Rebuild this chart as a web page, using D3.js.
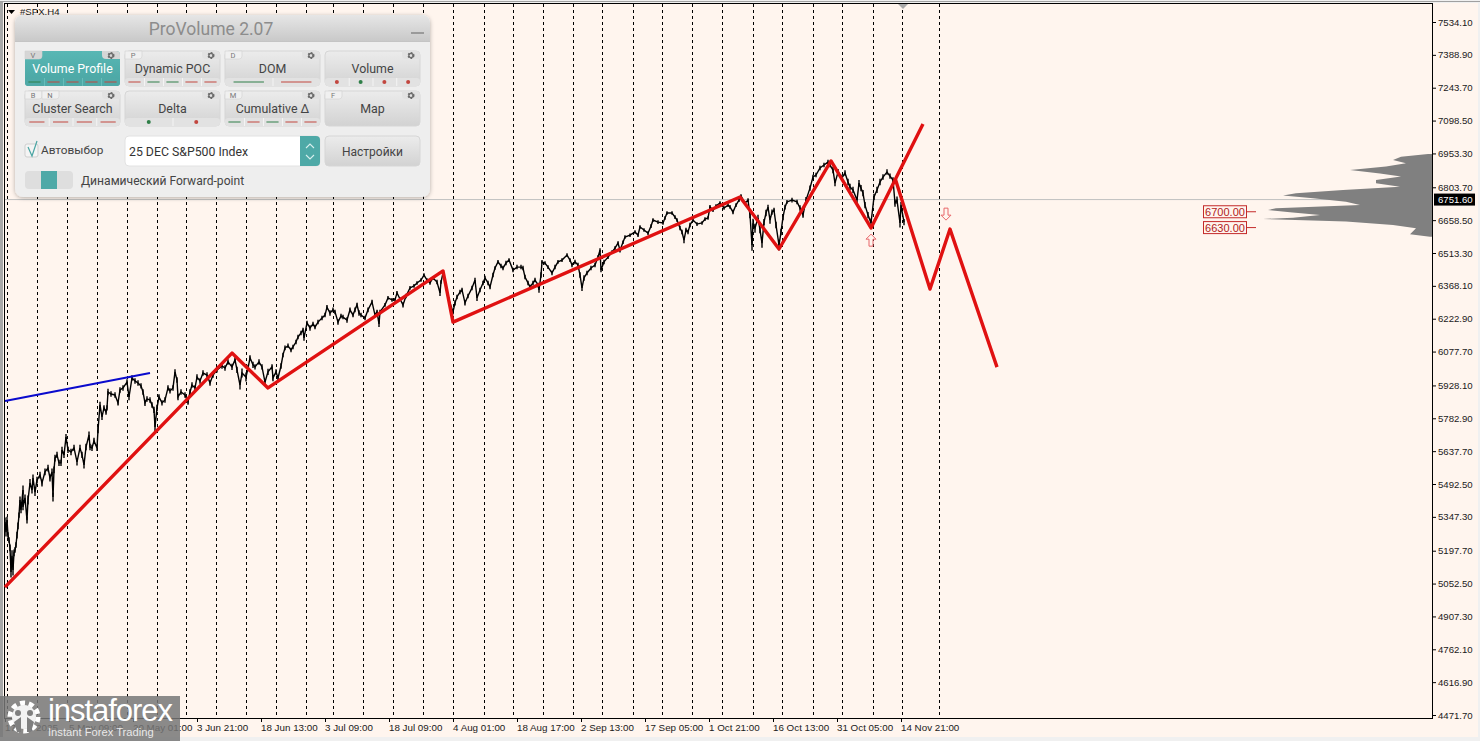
<!DOCTYPE html>
<html><head><meta charset="utf-8">
<script src="https://cdnjs.cloudflare.com/ajax/libs/d3/7.8.5/d3.min.js"></script>
<style>html,body{margin:0;padding:0;background:#f0f0f0;overflow:hidden}svg{display:block}text{font-family:"Liberation Sans",sans-serif}.p text{font-family:Roboto,sans-serif}</style>
</head><body><svg id="c" width="1480" height="741"></svg>
<script>
const priceLabels=[7534.10,7388.90,7243.70,7098.50,6953.30,6803.70,6658.50,6513.30,6368.10,6222.90,6077.70,5928.10,5782.90,5637.70,5492.50,5347.30,5197.70,5052.50,4907.30,4762.10,4616.90,4471.70];
const timeLabels=["17 Apr 2025","5 May 09:00","20 May 01:00","3 Jun 21:00","18 Jun 13:00","3 Jul 09:00","18 Jul 09:00","4 Aug 01:00","18 Aug 17:00","2 Sep 13:00","17 Sep 05:00","1 Oct 21:00","16 Oct 13:00","31 Oct 05:00","14 Nov 21:00"];
const timeBars=[0,64,128,192,256,320,384,448,512,576,640,704,768,832,896];
const separatorBars=[2,32,62,92,122,152,181,211,241,271,301,328,358,388,418,448,479,508,538,568,597,628,657,687,717,748,777,808,837,868,897,934];
// [bar, price, half of the bar's high-low range]
const priceSeries=[[0,5324,20],[1,5280,20],[2,5333,15],[3,5267,12],[4,5245,12],[5,5210,15],[6,5104,25],[7,5175,25],[8,5113,25],[9,5188,15],[10,5201,12],[11,5223,12],[12,5267,15],[13,5307,15],[14,5355,12],[15,5422,15],[16,5378,15],[18,5466,20],[18,5391,15],[20,5431,15],[22,5333,15],[23,5422,20],[25,5497,18],[27,5466,15],[28,5519,15],[30,5457,18],[32,5510,15],[35,5532,15],[37,5497,15],[40,5546,15],[43,5563,15],[45,5519,15],[47,5546,15],[48,5435,20],[49,5555,15],[50,5607,15],[52,5621,14],[54,5586,14],[56,5586,14],[57,5643,14],[59,5621,14],[61,5700,14],[63,5643,14],[66,5634,14],[69,5652,14],[72,5590,16],[75,5652,14],[77,5621,14],[79,5577,16],[81,5656,14],[84,5709,16],[85,5656,14],[87,5652,14],[89,5683,14],[92,5652,14],[93,5731,14],[95,5842,14],[97,5789,14],[99,5829,12],[101,5811,12],[102,5829,12],[103,5899,14],[106,5890,12],[110,5886,12],[113,5851,12],[115,5908,12],[118,5917,12],[122,5943,12],[124,5877,14],[127,5961,12],[130,5948,12],[133,5939,12],[136,5926,12],[138,5899,12],[140,5851,14],[142,5868,12],[145,5864,12],[147,5842,12],[149,5820,14],[150,5745,20],[152,5829,14],[154,5877,12],[157,5851,12],[160,5864,12],[163,5917,12],[165,5904,12],[168,5917,12],[170,5988,12],[172,5952,12],[173,5877,14],[176,5899,12],[180,5886,12],[183,5855,12],[185,5899,12],[187,5930,12],[190,5917,12],[192,5965,12],[195,5948,12],[198,5983,12],[202,5974,12],[205,5939,12],[208,5974,12],[212,5997,12],[217,6014,12],[220,6005,12],[223,6032,12],[227,6010,14],[230,6041,12],[232,5997,14],[235,5930,20],[237,5983,20],[241,5965,20],[243,6005,14],[245,6050,12],[248,6019,14],[250,6010,12],[254,6032,12],[257,6010,12],[260,5943,14],[263,5988,14],[267,6010,12],[268,5961,14],[271,5988,12],[273,5961,12],[276,6014,12],[278,6063,10],[280,6094,10],[283,6103,10],[286,6085,10],[288,6098,10],[291,6120,10],[293,6142,10],[296,6160,10],[298,6173,10],[299,6138,12],[302,6204,10],[305,6182,12],[308,6200,10],[310,6186,10],[313,6208,10],[317,6226,10],[320,6239,10],[322,6274,10],[325,6248,12],[328,6262,10],[330,6253,10],[333,6208,12],[336,6235,10],[338,6230,10],[342,6217,12],[345,6262,10],[348,6239,10],[350,6262,10],[352,6284,10],[354,6248,12],[356,6239,10],[360,6226,10],[363,6262,10],[367,6297,10],[370,6239,10],[372,6253,10],[374,6200,14],[375,6253,10],[380,6284,8],[383,6315,8],[387,6306,8],[390,6306,8],[392,6337,8],[395,6310,8],[398,6284,12],[401,6323,10],[405,6359,8],[409,6368,8],[412,6381,8],[416,6394,8],[419,6416,8],[422,6394,8],[425,6381,8],[428,6403,8],[432,6385,10],[435,6337,14],[436,6385,8],[438,6425,8],[444,6306,10],[448,6253,10],[450,6293,12],[452,6319,10],[455,6341,10],[457,6350,10],[460,6293,12],[463,6323,10],[467,6359,10],[470,6394,10],[472,6315,14],[475,6350,10],[478,6381,10],[480,6403,10],[483,6381,10],[485,6363,10],[488,6416,10],[490,6447,8],[493,6474,8],[496,6456,10],[498,6447,10],[501,6469,10],[504,6482,8],[508,6438,10],[512,6451,10],[516,6451,10],[518,6447,10],[520,6407,10],[523,6381,10],[525,6363,10],[528,6381,10],[530,6394,10],[533,6372,10],[534,6350,12],[536,6416,12],[537,6474,8],[540,6469,8],[543,6451,8],[547,6425,10],[550,6451,10],[553,6474,8],[557,6482,8],[562,6504,8],[565,6482,8],[567,6460,10],[570,6474,10],[573,6460,10],[575,6416,12],[577,6359,14],[579,6403,12],[582,6425,10],[586,6447,10],[590,6460,10],[593,6495,8],[595,6526,8],[596,6438,10],[599,6474,10],[603,6495,8],[607,6517,8],[610,6535,8],[613,6557,8],[615,6526,10],[618,6561,8],[620,6584,8],[625,6592,8],[630,6606,8],[633,6592,8],[635,6628,8],[639,6615,8],[643,6601,8],[646,6632,8],[648,6659,8],[653,6650,8],[658,6646,8],[660,6668,8],[662,6690,8],[667,6690,8],[670,6672,8],[672,6659,8],[675,6624,10],[677,6606,10],[679,6570,14],[681,6615,10],[683,6606,10],[685,6637,10],[688,6659,8],[692,6641,8],[697,6646,8],[700,6663,8],[703,6668,8],[705,6717,8],[708,6703,8],[711,6721,8],[715,6734,8],[719,6712,8],[723,6725,8],[725,6717,8],[728,6694,10],[731,6725,8],[734,6747,8],[736,6765,8],[740,6734,8],[743,6747,8],[745,6681,14],[747,6548,25],[748,6645,20],[750,6623,20],[753,6668,14],[755,6615,14],[757,6557,20],[759,6650,14],[761,6690,14],[763,6716,10],[765,6659,16],[767,6694,12],[769,6703,10],[771,6637,14],[774,6548,24],[776,6606,14],[778,6672,14],[780,6716,10],[782,6739,8],[787,6747,10],[792,6739,10],[795,6712,12],[798,6681,12],[801,6747,14],[805,6800,12],[808,6849,10],[811,6858,10],[815,6889,10],[819,6902,10],[823,6915,10],[825,6902,10],[828,6880,14],[830,6822,14],[833,6871,14],[837,6845,14],[840,6867,12],[843,6827,14],[845,6805,14],[848,6792,14],[852,6747,14],[854,6822,14],[856,6800,14],[858,6778,14],[860,6725,14],[863,6681,14],[866,6646,20],[869,6761,14],[872,6792,14],[875,6827,14],[878,6849,12],[882,6871,12],[885,6853,12],[888,6836,12],[890,6734,16],[892,6747,16],[895,6646,20],[896,6725,14],[899,6650,14]];
const zigzagBars=[0,227,263,438,448,735,774,826,866,918],zigzagPrices=[5037,6071,5917,6434,6208,6761,6531,6920,6624,7083];
const forecastBars=[890,925,945,992],forecastPrices=[6845,6354,6619,6009];
const blueBars=[0,145],bluePrices=[5859,5983];
const lastPrice=6751.60;
const levels=[6700,6630];
const profilePrices=[6951,6939,6924,6910,6895,6880,6865,6851,6836,6821,6806,6792,6777,6767,6755,6740,6725,6711,6703,6693,6681,6669,6664,6652,6637,6623,6596,6585];
const profileVolumes=[4,31,39,26,46,82,52,31,56,56,32,89,136,149,119,86,72,156,164,142,112,139,169,86,39,16,22,2];
const buttonNames=["Volume Profile","Dynamic POC","DOM","Volume","Cluster Search","Delta","Cumulative Δ","Map"];
const buttonKeys=[["V"],["P"],["D"],[],["B","N"],[],["M"],["F"]];
const buttonStrips=["grrrr","rggrr","gr","rgrr","rrrr","gr","grgrr",""];
const buttonDots=[false,false,false,true,false,true,false,false];

const W=1480,H=741,svg=d3.select("#c");
const x=d3.scaleLinear().domain([0,1000]).range([5,1005]);
const y=d3.scaleLinear().domain([4471.7,7534.1]).range([715,22]);
const FG="#1a1a1a";
const defs=svg.append("defs");
const grad=(id,a,b)=>{const g=defs.append("linearGradient").attr("id",id).attr("x1",0).attr("x2",0).attr("y1",0).attr("y2",1);
 g.append("stop").attr("offset",0).attr("stop-color",a);g.append("stop").attr("offset",1).attr("stop-color",b);};
grad("hg","#e6e6e6","#c9c9c9");grad("bg","#ececec","#d2d2d2");grad("tg","#58b7b4","#4aa5a3");
const sh=defs.append("filter").attr("id","sh").attr("x","-5%").attr("y","-5%").attr("width","110%").attr("height","110%");
sh.append("feDropShadow").attr("dx",0).attr("dy",1).attr("stdDeviation",2).attr("flood-color","#000").attr("flood-opacity",.3);

svg.append("rect").attr("width",W).attr("height",H).attr("fill","#f0f0f0");
svg.append("rect").attr("x",3).attr("y",3).attr("width",1475).attr("height",734).attr("fill","#fff5ee");
svg.append("rect").attr("x",0).attr("y",1).attr("width",3).attr("height",736).attr("fill","#a8a8a8");
svg.append("line").attr("x1",0).attr("x2",W).attr("y1",1.5).attr("y2",1.5).attr("stroke","#a0a0a0");
svg.append("line").attr("x1",4.5).attr("x2",4.5).attr("y1",4).attr("y2",718).attr("stroke","#000");
svg.append("line").attr("x1",4).attr("x2",1432).attr("y1",3.5).attr("y2",3.5).attr("stroke","#000");
svg.append("line").attr("x1",4).attr("x2",1432).attr("y1",718.5).attr("y2",718.5).attr("stroke","#000");
svg.append("line").attr("x1",1432.5).attr("x2",1432.5).attr("y1",3).attr("y2",719).attr("stroke","#000");

svg.append("g").selectAll("line").data(separatorBars).join("line")
 .attr("x1",d=>x(d)+.5).attr("x2",d=>x(d)+.5).attr("y1",4).attr("y2",718)
 .attr("stroke","#000").attr("stroke-dasharray","3 3");

svg.append("line").attr("x1",5).attr("x2",1432).attr("y1",y(lastPrice)+.5).attr("y2",y(lastPrice)+.5).attr("stroke","#c0c0c0");

const vx=d3.scaleLinear().domain([0,1]).range([1432,1431]);
svg.append("path").datum(profilePrices.map((p,i)=>[p,profileVolumes[i]]))
 .attr("fill","#808080")
 .attr("d",d3.area().y(d=>y(d[0])).x0(vx(0)).x1(d=>vx(d[1])));

svg.append("path").datum(priceSeries).attr("fill","none").attr("stroke","#000").attr("stroke-width",1.4)
 .attr("d",d3.line().x(d=>x(d[0])).y(d=>y(d[1])));
svg.append("g").selectAll("line").data(priceSeries).join("line")
 .attr("x1",d=>x(d[0])).attr("x2",d=>x(d[0])).attr("y1",d=>y(d[1]-d[2])).attr("y2",d=>y(d[1]+d[2]))
 .attr("stroke","#000").attr("stroke-width",1.4);

const lineOf=(bars,vals,col,w)=>svg.append("path").datum(bars.map((b,i)=>[b,vals[i]]))
 .attr("fill","none").attr("stroke",col).attr("stroke-width",w).attr("stroke-linejoin","round")
 .attr("d",d3.line().x(d=>x(d[0])).y(d=>y(d[1])));
lineOf(blueBars,bluePrices,"#0a0acd",2);
lineOf(zigzagBars,zigzagPrices,"#e01111",3.4);
lineOf(forecastBars,forecastPrices,"#e01111",3.4);

const arrow=(cx,cy,dir)=>svg.append("path")
 .attr("d",`M0,${-6*dir}L5,${-1*dir}L2,${-1*dir}L2,${6*dir}L-2,${6*dir}L-2,${-1*dir}L-5,${-1*dir}Z`)
 .attr("transform",`translate(${cx},${cy})`).attr("fill","#fff5ee").attr("stroke","#e8676a");
arrow(x(866),y(6570),1);arrow(x(941),y(6685),-1);

levels.forEach(l=>{
 const yy=y(l)+1;
 svg.append("rect").attr("x",1203.5).attr("y",yy-6).attr("width",43).attr("height",12).attr("fill","#fff5ee").attr("stroke","#c42a2a");
 svg.append("line").attr("x1",1246).attr("x2",1256).attr("y1",yy).attr("y2",yy).attr("stroke","#c42a2a");
 svg.append("text").attr("x",1225).attr("y",yy+4).attr("text-anchor","middle").attr("font-size",11).attr("fill","#b01c1c").text(l.toFixed(2));
});

svg.append("g").selectAll("line").data(priceLabels).join("line").attr("x1",1432).attr("x2",1436).attr("y1",d=>y(d)+.5).attr("y2",d=>y(d)+.5).attr("stroke","#000");
svg.append("g").selectAll("text").data(priceLabels).join("text").attr("x",1438).attr("y",d=>y(d)+3.5)
 .attr("font-size",9.6).attr("fill",FG).text(d=>d.toFixed(2));
svg.append("rect").attr("x",1434).attr("y",y(lastPrice)-5.5).attr("width",41).attr("height",12).attr("fill","#000");
svg.append("text").attr("x",1438).attr("y",y(lastPrice)+4).attr("font-size",9.6).attr("fill","#fff").text(lastPrice.toFixed(2));

svg.append("g").selectAll("line").data(timeBars).join("line").attr("x1",d=>x(d)+.5).attr("x2",d=>x(d)+.5).attr("y1",718).attr("y2",722).attr("stroke","#000");
svg.append("g").selectAll("text").data(timeLabels).join("text").attr("x",(d,i)=>x(timeBars[i])).attr("y",731)
 .attr("font-size",9.8).attr("fill",FG).text(d=>d);

svg.append("path").attr("d","M8,10L15,10L11.5,14Z").attr("fill","#000");
svg.append("text").attr("x",20).attr("y",15).attr("font-size",9.6).attr("fill",FG).text("#SPX,H4");
svg.append("path").attr("d","M898,4L908,4L903,9Z").attr("fill","#a9a9a9");

const P=svg.append("g").attr("class","p");
P.append("rect").attr("x",15).attr("y",15).attr("width",415).attr("height",182).attr("rx",8).attr("fill","#eeeeee").attr("filter","url(#sh)");
P.append("path").attr("d","M15,41V23a8,8 0 0 1 8,-8H422a8,8 0 0 1 8,8V41Z").attr("fill","url(#hg)");
P.append("line").attr("x1",15).attr("x2",430).attr("y1",41.5).attr("y2",41.5).attr("stroke","#c4c4c4");
P.append("text").attr("x",211).attr("y",35).attr("text-anchor","middle").attr("font-size",17.5).attr("fill","#8c8c8c").text("ProVolume 2.07");
P.append("rect").attr("x",411).attr("y",32).attr("width",13).attr("height",2).attr("fill","#9a9a9a");

const gear=(g,cx,cy,c)=>{g.append("circle").attr("cx",cx).attr("cy",cy).attr("r",2.4).attr("fill","none").attr("stroke",c).attr("stroke-width",2.2).attr("stroke-dasharray","1.3 1.2");
 g.append("circle").attr("cx",cx).attr("cy",cy).attr("r",2.2).attr("fill","none").attr("stroke",c).attr("stroke-width",1.2);};
buttonNames.forEach((name,i)=>{
 const col=i%4,row=i>>2,bx=25+col*100,by=51+row*40,bw=95,bh=35,active=i===0;
 const g=P.append("g");
 g.append("rect").attr("x",bx).attr("y",by).attr("width",bw).attr("height",bh).attr("rx",4).attr("fill",active?"url(#tg)":"url(#bg)").attr("stroke",active?"none":"#d6d6d6");
 buttonKeys[i].forEach((k,j)=>{
  g.append("path").attr("d",`M${bx+j*17},${by}h17v5a3,3 0 0 1 -3,3h-14z`).attr("fill",active?"#d6d6d6":"#f0f0f0").attr("stroke","#d2d2d2").attr("stroke-width",.6);
  g.append("text").attr("x",bx+8+j*17).attr("y",by+7).attr("text-anchor","middle").attr("font-size",7.5).attr("fill","#777").text(k);
 });
 g.append("path").attr("d",`M${bx+bw-18},${by}h14a4,4 0 0 1 4,4v4h-14a4,4 0 0 1 -4,-4z`).attr("fill",active?"#d6d6d6":"#e2e2e2");
 gear(g,bx+bw-9,by+4.5,"#6c6c6c");
 g.append("text").attr("x",bx+bw/2).attr("y",by+bh/2+4).attr("text-anchor","middle").attr("font-size",12.4).attr("fill",active?"#fff":"#444").text(name);
 const strip=buttonStrips[i];
 if(strip){
  const n=strip.length,sy=by+27,sw=bw/n;
  g.append("rect").attr("x",bx).attr("y",sy).attr("width",bw).attr("height",8).attr("rx",3).attr("fill",active?"#4fa9a7":"#e2e2e2");
  strip.split("").forEach((c,j)=>{
   const cc=c==="g"?"#2f7f48":"#c2463f",cx=bx+sw*(j+.5);
   if(j>0)g.append("line").attr("x1",bx+sw*j+.5).attr("x2",bx+sw*j+.5).attr("y1",sy).attr("y2",sy+8).attr("stroke",active?"#66bdba":"#f4f4f4");
   if(buttonDots[i])g.append("circle").attr("cx",cx).attr("cy",sy+4).attr("r",2).attr("fill",cc);
   else g.append("line").attr("x1",cx-sw*.32).attr("x2",cx+sw*.32).attr("y1",sy+4).attr("y2",sy+4).attr("stroke",cc);
  });
 }
});
P.append("rect").attr("x",25).attr("y",144).attr("width",13).attr("height",13).attr("rx",2).attr("fill","#f4f4f4").attr("stroke","#cfcfcf");
P.append("path").attr("d","M28,147L32,156L37,141").attr("fill","none").attr("stroke","#4aa5a3").attr("stroke-width",1.2);
P.append("text").attr("x",41).attr("y",154).attr("font-size",11.8).attr("fill","#444").text("Автовыбор");
P.append("rect").attr("x",125).attr("y",136).attr("width",195).attr("height",30).attr("rx",4).attr("fill","#fff").attr("stroke","#e2e2e2");
P.append("path").attr("d","M300,136h16a4,4 0 0 1 4,4v22a4,4 0 0 1 -4,4h-16z").attr("fill","#4ea9a7");
P.append("path").attr("d","M306,148l4,-4l4,4M306,155l4,4l4,-4").attr("fill","none").attr("stroke","#d8efee").attr("stroke-width",1.1);
P.append("text").attr("x",129).attr("y",156).attr("font-size",12.3).attr("fill","#333").text("25 DEC S&P500 Index");
P.append("rect").attr("x",325).attr("y",136).attr("width",95).attr("height",30).attr("rx",4).attr("fill","url(#bg)").attr("stroke","#d6d6d6");
P.append("text").attr("x",372.5).attr("y",156).attr("text-anchor","middle").attr("font-size",12).attr("fill","#444").text("Настройки");
P.append("rect").attr("x",25).attr("y",171).attr("width",48).attr("height",18).attr("rx",4).attr("fill","#dedede");
P.append("rect").attr("x",41).attr("y",171).attr("width",16).attr("height",18).attr("fill","#4ea9a7");
P.append("text").attr("x",81).attr("y",185).attr("font-size",12.1).attr("fill","#444").text("Динамический Forward-point");

const M=svg.append("g");
M.append("rect").attr("x",0).attr("y",696).attr("width",180).attr("height",45).attr("fill","#777").attr("opacity",.85);
M.append("circle").attr("cx",24).attr("cy",717).attr("r",14).attr("fill","none").attr("stroke","#fff").attr("stroke-width",5).attr("stroke-dasharray","5 3.8");
M.append("circle").attr("cx",24).attr("cy",717).attr("r",12).attr("fill","#f2f2f2");
M.append("circle").attr("cx",18).attr("cy",713).attr("r",3).attr("fill","#7f7f7f");
M.append("circle").attr("cx",30).attr("cy",713).attr("r",3).attr("fill","#7f7f7f");
M.append("path").attr("d","M14,722L21,717V732H17ZM34,722L27,717V732H31Z").attr("fill","#7f7f7f");
M.append("text").attr("x",48).attr("y",721).attr("font-size",31).attr("font-family","Lato,sans-serif").attr("font-weight",300).attr("fill","#fff").attr("textLength",125).text("instaforex");
M.append("text").attr("x",48).attr("y",736).attr("font-size",11.2).attr("fill","#e8e8e8").text("Instant Forex Trading");
</script></body></html>
